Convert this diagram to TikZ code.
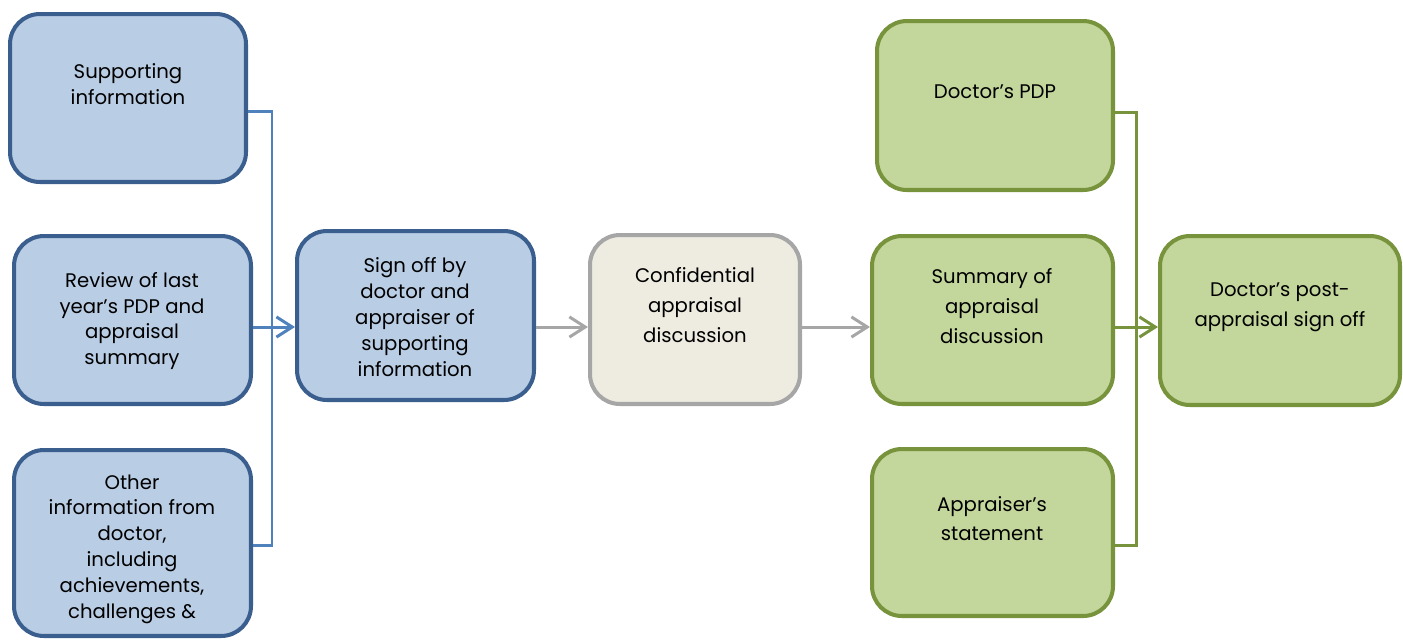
\documentclass[tikz,border=0pt]{standalone}
\usepackage{fontspec}
\setmainfont{Poppins}
\usetikzlibrary{arrows.meta}
\definecolor{bfill}{HTML}{B9CDE5}
\definecolor{bdraw}{HTML}{3A5F8F}
\definecolor{bline}{HTML}{4F81BD}
\definecolor{gfill}{HTML}{EEECE1}
\definecolor{gdraw}{HTML}{A6A6A6}
\definecolor{nfill}{HTML}{C3D69B}
\definecolor{ndraw}{HTML}{77933C}
\tikzset{
  box/.style={rectangle, rounded corners=17pt, line width=2.3pt, inner sep=0pt},
  bluebox/.style={box, fill=bfill, draw=bdraw},
  graybox/.style={box, fill=gfill, draw=gdraw},
  greenbox/.style={box, fill=nfill, draw=ndraw},
  txt/.style={align=center, font=\fontsize{11.2}{14.7}\selectfont, inner sep=0pt},
  conn/.style={line width=1.7pt},
  tip/.style={-{Straight Barb[length=9pt,width=11.5pt]}},
}
\begin{document}
\begin{tikzpicture}[x=0.02cm,y=-0.02cm]
\useasboundingbox (0,0) rectangle (1403,640);
% boxes
\node[bluebox, minimum width=4.72cm, minimum height=3.36cm] (b1) at (128,98) {};
\node[bluebox, minimum width=4.74cm, minimum height=3.36cm] (b2) at (132.5,320) {};
\node[bluebox, minimum width=4.74cm, minimum height=3.72cm] (b3) at (132.5,543) {};
\node[bluebox, minimum width=4.74cm, minimum height=3.38cm] (b4) at (415.5,315.5) {};
\node[graybox, minimum width=4.20cm, minimum height=3.38cm] (b5) at (695,319.5) {};
\node[greenbox, minimum width=4.72cm, minimum height=3.38cm] (b6) at (995,105.5) {};
\node[greenbox, minimum width=4.82cm, minimum height=3.36cm] (b7) at (992.5,320) {};
\node[greenbox, minimum width=4.82cm, minimum height=3.34cm] (b8) at (992.5,532.5) {};
\node[greenbox, minimum width=4.80cm, minimum height=3.38cm] (b9) at (1280,320.5) {};
% texts
\node[txt] (t1) at (128,84) {Supporting\\information};
\node[txt] (t2) at (132,321) {Review of last\\year’s PDP and\\appraisal\\summary};
\begin{scope}
\clip (0,440) rectangle (1403,623);
\node[txt] (t3) at (132,549) {Other\\information from\\doctor,\\including\\achievements,\\challenges \&};
\end{scope}
\node[txt] (t4) at (415,317) {Sign off by\\doctor and\\appraiser of\\supporting\\information};
\node[txt, font=\fontsize{11.2}{17}\selectfont] (t5) at (695,305) {Confidential\\appraisal\\discussion};
\node[txt] (t6) at (995,92) {Doctor’s PDP};
\node[txt, font=\fontsize{11.2}{17}\selectfont] (t7) at (992,306) {Summary of\\appraisal\\discussion};
\node[txt, font=\fontsize{11.2}{16.5}\selectfont] (t8) at (992,519) {Appraiser’s\\statement};
\node[txt, font=\fontsize{11.2}{17}\selectfont] (t9) at (1280,307) {Doctor’s post-\\appraisal sign off};
% left bracket
\coordinate (j1) at (272,111);
\coordinate (j3) at (272,545);
\draw[conn, bline] (b1.east |- j1) -- (j1) -- (j3) -- (b3.east |- j3);
\draw[conn, bline, tip] (b2.east |- 0,327) -- (b4.west |- 0,327);
% gray arrows
\draw[conn, gdraw, tip] (b4.east |- 0,327) -- (b5.west |- 0,327);
\draw[conn, gdraw, tip] (b5.east |- 0,327) -- (b7.west |- 0,327);
% right bracket
\coordinate (k1) at (1136,112);
\coordinate (k3) at (1136,545);
\draw[conn, ndraw] (b6.east |- k1) -- (k1) -- (k3) -- (b8.east |- k3);
\draw[conn, ndraw, tip] (b7.east |- 0,327) -- (b9.west |- 0,327);
\end{tikzpicture}
\end{document}
